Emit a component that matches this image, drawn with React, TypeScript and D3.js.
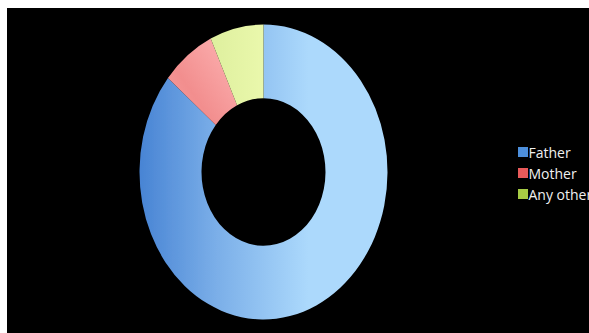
import React from "react";
import * as d3 from "d3";

const categories = ["Father", "Mother", "Any other"];
const values = [86, 7, 7];
const legendColors = ["#4d8fdc", "#e85a5a", "#a6cc45"];

const W = 589;
const H = 333;

export default function App() {
  const cx = 263.5;
  const cy = 172;
  const R = 124;
  const ry = 147.5;
  const pie = d3.pie<number>().sort(null).startAngle(0).endAngle(2 * Math.PI);
  const arcs = pie(values);
  const arc = d3.arc<d3.PieArcDatum<number>>().innerRadius(R * 0.5).outerRadius(R);
  const fills = ["url(#gFather)", "url(#gMother)", "url(#gOther)"];
  const legendY = d3.scaleBand<string>().domain(categories).range([146, 209]).paddingInner(0);

  return (
    <svg
      width={W}
      height={H}
      style={{ position: "absolute", left: 0, top: 0, background: "#fff" }}
    >
      <defs>
        <linearGradient id="gFather" gradientUnits="userSpaceOnUse" x1={-R} y1={0} x2={45} y2={0}>
          <stop offset="0" stopColor="#4884d4" />
          <stop offset="0.45" stopColor="#7aaee8" />
          <stop offset="1" stopColor="#acd9fc" />
        </linearGradient>
        <linearGradient id="gMother" gradientUnits="userSpaceOnUse" x1={-100} y1={-40} x2={-40} y2={-90}>
          <stop offset="0" stopColor="#f7a0a0" />
          <stop offset="0.5" stopColor="#f28e8e" />
          <stop offset="1" stopColor="#f9a6a6" />
        </linearGradient>
        <linearGradient id="gOther" gradientUnits="userSpaceOnUse" x1={-60} y1={0} x2={0} y2={0}>
          <stop offset="0" stopColor="#dcee9c" />
          <stop offset="1" stopColor="#eaf8ac" />
        </linearGradient>
        <filter id="soft" x="-10%" y="-10%" width="120%" height="120%">
          <feGaussianBlur stdDeviation="0.6" />
        </filter>
      </defs>
      <rect x={7} y={8} width={W - 7} height={H - 8} fill="#000" />
      <g transform={`translate(${cx},${cy}) scale(1,${ry / R})`} filter="url(#soft)">
        {arcs.map((a, i) => (
          <path key={categories[i]} d={arc(a) || ""} fill={fills[i]} />
        ))}
      </g>
      <g fontFamily="'Open Sans', 'DejaVu Sans', sans-serif" fontSize={14} fill="#f0f0f0">
        {categories.map((c, i) => {
          const y = legendY(c)!;
          return (
            <g key={c}>
              <rect x={518} y={y + 1} width={10} height={10} fill={legendColors[i]} />
              <text x={528.5} y={y + 11.5}>{c}</text>
            </g>
          );
        })}
      </g>
    </svg>
  );
}
